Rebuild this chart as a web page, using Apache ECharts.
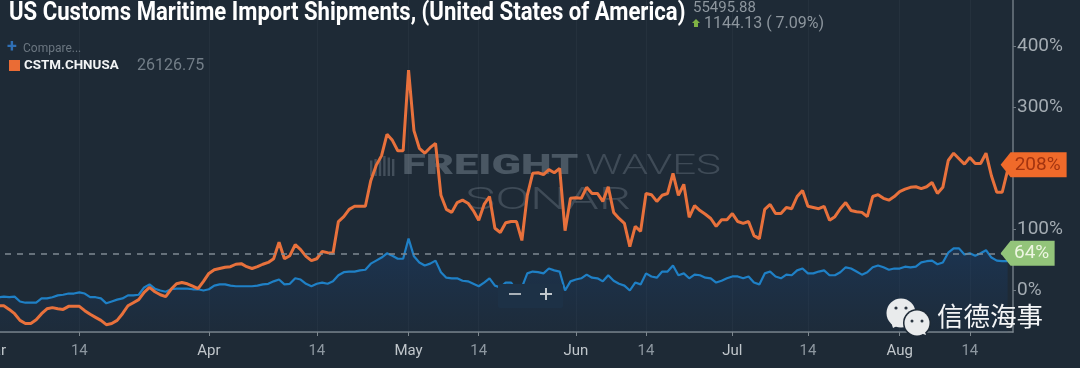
<!DOCTYPE html>
<html>
<head>
<meta charset="utf-8">
<style>
html,body{margin:0;padding:0;background:#1e2a36;overflow:hidden;}
#main{width:1080px;height:368px;}
</style>
<script src="https://cdn.jsdelivr.net/npm/echarts@6/dist/echarts.min.js"></script>
</head>
<body>
<div id="main"></div>
<script>
// axis labels, and how many samples sit between one label and the next (spacing is ordinal)
var tickLabels = ['Mar','14','Apr','14','May','14','Jun','14','Jul','14','Aug','14'];
var samplesBetween = [16,24,20,17,13,18,13,16,14,17,13,9];
var yTicks = [0,100,300,400];

var usaValues = [-11,-11,-10,-11,-10,-18,-20,-20,-20,-13,-13,-11,-8,-7,-5,-5,-3,-5,-11,-11,
	-13,-21,-18,-15,-13,-8,-8,-7,5,10,3,0,-2,2,3,3,3,2,2,0,
	2,8,10,10,8,7,7,7,7,8,10,11,15,18,10,11,20,18,11,7,
	11,13,11,15,25,30,31,31,33,34,44,49,54,61,57,52,52,85,56,46,
	41,44,49,30,21,20,20,16,15,11,7,13,20,8,5,13,13,0,5,28,
	31,30,28,36,33,31,0,15,18,20,26,21,20,15,25,16,11,8,0,13,
	10,28,23,21,31,31,41,25,28,20,26,25,21,20,13,16,20,23,23,20,
	23,13,10,28,31,23,20,26,25,33,36,28,28,31,33,25,25,30,38,36,
	31,26,30,38,41,38,34,36,36,39,38,39,46,48,49,43,46,62,69,69,
	59,61,57,61,66,54,49,48,48];

var chinaValues = [-25,-25,-25,-31,-38,-49,-54,-54,-48,-38,-30,-28,-30,-31,-26,-26,-26,-33,-39,-44,
	-49,-56,-54,-49,-38,-25,-20,-15,-3,5,-2,-7,-10,2,11,13,11,7,3,15,
	28,34,36,38,39,43,44,39,36,39,43,46,52,79,52,57,75,67,56,49,
	52,64,62,61,113,121,133,138,138,138,180,205,221,256,246,229,229,361,262,233,
	225,234,241,156,133,128,144,148,143,131,115,141,154,102,95,111,113,113,82,156,
	192,193,190,198,193,200,98,151,152,151,169,159,159,146,170,128,118,110,72,105,
	97,159,157,146,156,159,192,156,174,120,139,131,125,118,105,116,116,126,113,110,
	113,90,85,133,141,126,126,136,134,154,164,138,136,134,138,115,121,134,144,131,
	129,128,121,154,157,151,148,154,162,166,169,170,167,170,177,159,169,213,225,216,
	207,218,208,208,225,188,161,161,197];

var refLine = 61;
var chinaTag = 206;
var usaTag = 61;

var categories = [];
for (var i = 0; i < tickLabels.length; i++) {
	categories.push(tickLabels[i]);
	for (var j = 1; j < samplesBetween[i]; j++) categories.push('');
}

function isTick(index, value) {
	return value !== '';
}

var bg = '#1e2a36';
var lastIndex = chinaValues.length - 1;
var font = 'Roboto, sans-serif';

var graphics = [
	{type:'text', z:100, x:9, y:1, scaleX:0.885, style:{text:'US Customs Maritime Import Shipments, (United States of America)', fill:'#ffffff', font:'bold 25px Roboto, sans-serif'}},
	{type:'text', z:100, x:693, y:1, style:{text:'55495.88', fill:'#8d969e', font:'15px Roboto, sans-serif'}},
	{type:'polygon', z:100, shape:{points:[[696,19],[700,23],[698,23],[698,27],[694,27],[694,23],[692,23]]}, style:{fill:'#7fb244'}},
	{type:'text', z:100, x:704, y:16, style:{text:'1144.13 ( 7.09%)', fill:'#8d969e', font:'16px Roboto, sans-serif'}},
	{type:'text', z:100, x:7, y:38, style:{text:'+', fill:'#2f6fb5', font:'bold 18px Roboto, sans-serif'}},
	{type:'text', z:100, x:23, y:43, style:{text:'Compare...', fill:'#6b7680', font:'12px Roboto, sans-serif'}},
	{type:'rect', z:100, shape:{x:9, y:60, width:11, height:11}, style:{fill:'#ea6c35'}},
	{type:'text', z:100, x:24, y:59, scaleX:1.03, style:{text:'CSTM.CHNUSA', fill:'#f2f4f5', font:'bold 13px Roboto, sans-serif'}},
	{type:'text', z:100, x:137, y:58, style:{text:'26126.75', fill:'#737e88', font:'16px Roboto, sans-serif'}},

	// watermark
	{type:'text', z:0, x:402, y:153, scaleX:1.55, style:{text:'FREIGHT', fill:'#4a5763', font:'900 28px Roboto, sans-serif'}},
	{type:'text', z:0, x:585, y:153, scaleX:1.5, style:{text:'WAVES', fill:'#3f4b57', font:'300 28px Roboto, sans-serif'}},
	{type:'text', z:0, x:465, y:186, scaleX:1.65, style:{text:'SONAR', fill:'#3f4b57', font:'300 31px Roboto, sans-serif'}},

	// zoom buttons
	{type:'rect', z:100, shape:{x:498, y:284, width:65, height:24, r:2}, style:{fill:'#1d3146'}},
	{type:'rect', z:101, shape:{x:509, y:293, width:12, height:2}, style:{fill:'#a9b1b8'}},
	{type:'rect', z:101, shape:{x:540, y:293, width:12, height:2}, style:{fill:'#c2c8cd'}},
	{type:'rect', z:101, shape:{x:545, y:288, width:2, height:12}, style:{fill:'#c2c8cd'}},

	// wechat mark
	{type:'circle', z:102, shape:{cx:901, cy:313, r:14.5}, style:{fill:'#e9ebec'}},
	{type:'polygon', z:102, shape:{points:[[891,322],[893,328],[899,325]]}, style:{fill:'#e9ebec'}},
	{type:'circle', z:103, shape:{cx:917, cy:323, r:14}, style:{fill:bg}},
	{type:'circle', z:104, shape:{cx:917, cy:323, r:12.5}, style:{fill:'#e9ebec'}},
	{type:'polygon', z:104, shape:{points:[[920,333],[926,335],[924,329]]}, style:{fill:'#e9ebec'}},
	{type:'circle', z:105, shape:{cx:896, cy:308, r:1.6}, style:{fill:'#2b3540'}},
	{type:'circle', z:105, shape:{cx:906, cy:308, r:1.6}, style:{fill:'#2b3540'}},
	{type:'circle', z:105, shape:{cx:912, cy:321, r:1.5}, style:{fill:'#2b3540'}},
	{type:'circle', z:105, shape:{cx:922, cy:321, r:1.5}, style:{fill:'#2b3540'}},
	{type:'text', z:105, x:937, y:303, style:{text:'信德海事', fill:'#f4f5f6', font:'26.5px "Noto Sans CJK SC"'}}
];
// bars of the watermark icon
for (var b = 0; b < 6; b++) {
	graphics.push({type:'rect', z:0, shape:{x:370 + b * 4.4, y:156 + Math.abs(b - 3) * 1.5, width:2.4, height:20 - Math.abs(b - 3) * 1.5}, style:{fill:'#434f5b'}});
}

var chart = echarts.init(document.getElementById('main'), null, {renderer:'canvas'});
var option = {
	animation: false,
	backgroundColor: bg,
	textStyle: {fontFamily: font},
	grid: {left:-7, right:67, top:0, bottom:36, outerBoundsMode:'none'},
	xAxis: {
		type: 'category',
		boundaryGap: false,
		data: categories,
		axisLine: {show:true, onZero:false, lineStyle:{color:'#7c868e', width:1.5}},
		axisTick: {show:true, interval:isTick, length:4, lineStyle:{color:'#7c868e'}},
		axisLabel: {
			interval: isTick,
			margin: 12,
			fontSize: 15,
			fontFamily: font,
			color: function (value) {
				return value === '14' ? '#8d97a0' : '#c0c6cb';
			}
		},
		splitLine: {show:true, interval:isTick, lineStyle:{color:'rgba(255,255,255,0.035)', width:1}}
	},
	yAxis: {
		type: 'value',
		position: 'right',
		min: -68,
		max: 476,
		axisLine: {show:true, lineStyle:{color:'#6f7a83', width:1.5}},
		axisTick: {show:true, length:3, customValues:yTicks, lineStyle:{color:'#6f7a83'}},
		axisLabel: {
			margin: 4,
			fontSize: 19,
			fontFamily: font,
			color: '#a3abb2',
			padding: [4,0,0,0],
			customValues: yTicks,
			formatter: '{value}%'
		},
		splitLine: {show:false}
	},
	series: [
		{
			name: 'USA',
			type: 'line',
			data: usaValues,
			showSymbol: false,
			lineStyle: {color:'#1f80c6', width:2.2},
			areaStyle: {
				origin: 'start',
				color: new echarts.graphic.LinearGradient(0, 0, 0, 1, [
					{offset:0, color:'rgba(24,68,125,0.6)'},
					{offset:1, color:'rgba(24,60,105,0.12)'}
				])
			},
			markLine: {
				silent: true,
				symbol: 'none',
				label: {show:false},
				lineStyle: {color:'#7f8992', type:[6,6], width:1.5},
				data: [{yAxis:refLine}]
			},
			markPoint: {
				silent: true,
				z: 20,
				data: [{
					coord: [lastIndex, usaTag],
					symbol: 'path://M0,12.5 L10,0 L54,0 L54,25 L10,25 Z',
					symbolSize: [54,25],
					symbolOffset: [20,0],
					itemStyle: {color:'#93c47a'},
					label: {show:true, position:'inside', offset:[4,0], formatter:'64%', fontSize:19, fontFamily:font, color:'#eef6e2'}
				}]
			}
		},
		{
			name: 'CSTM.CHNUSA',
			type: 'line',
			data: chinaValues,
			showSymbol: false,
			lineStyle: {color:'#e8713c', width:3},
			markPoint: {
				silent: true,
				z: 20,
				data: [{
					coord: [lastIndex, chinaTag],
					symbol: 'path://M0,12.5 L10,0 L66,0 L66,25 L10,25 Z',
					symbolSize: [66,25],
					symbolOffset: [26,0],
					itemStyle: {color:'#f06a2a'},
					label: {show:true, position:'inside', offset:[4,0], formatter:'208%', fontSize:19, fontFamily:font, color:'#a33410'}
				}]
			}
		}
	],
	graphic: {elements: graphics}
};
chart.setOption(option);
</script>
</body>
</html>
